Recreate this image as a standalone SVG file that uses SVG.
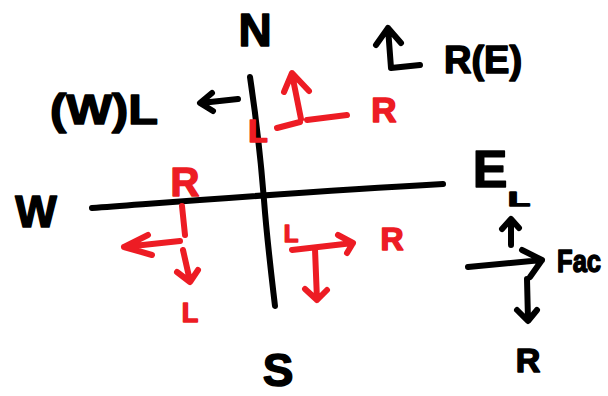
<svg xmlns="http://www.w3.org/2000/svg" width="608" height="396" viewBox="0 0 608 396">
<style>
.k{fill:none;stroke:#000;stroke-width:6;stroke-linecap:round;stroke-linejoin:round}
.r{fill:none;stroke:#ED1C24;stroke-width:6;stroke-linecap:round;stroke-linejoin:round}
.tk{font-family:"Liberation Sans",Arial,sans-serif;font-weight:bold;fill:#000;stroke:#000;stroke-width:1.5;stroke-linejoin:round}
.tr{font-family:"Liberation Sans",Arial,sans-serif;font-weight:bold;fill:#ED1C24;stroke:#ED1C24;stroke-width:1.5;stroke-linejoin:round}
</style>
<rect width="608" height="396" fill="#fff"/>
<g id="roads">
<path class="k" d="M250,77 C258,130 262,175 264,200 C267,240 272,280 275,306"/>
<path class="k" d="M92,208 C200,200 300,192 443,184"/>
</g>
<g id="compass">
<text class="tk" x="255" y="46" font-size="46" text-anchor="middle">N</text>
<text class="tk" x="36" y="227" font-size="44" text-anchor="middle">W</text>
<text class="tk" x="490" y="187" font-size="52" text-anchor="middle">E</text>
<text class="tk" x="278" y="386" font-size="46" text-anchor="middle">S</text>
</g>
<g id="legend-west">
<text class="tk" x="50" y="124" font-size="42" textLength="108" lengthAdjust="spacingAndGlyphs">(W)L</text>
<path class="k" d="M238,99 L201,103 M212,93 L200,103 L213,111"/>
</g>
<g id="legend-east">
<path class="k" d="M388,28 L391,68 L420,65 M376,45 L388,28 L401,43"/>
<text class="tk" x="444" y="73" font-size="38">R(E)</text>
</g>
<g id="legend-facing">
<text class="tk" x="508" y="206" font-size="20" textLength="22" lengthAdjust="spacingAndGlyphs">L</text>
<path class="k" d="M511,245 L511,221 M502,229 L511,219 L519,228"/>
<path class="k" d="M468,267 L542,260 M522,250 L542,260 L530,277"/>
<text class="tk" font-size="32" transform="translate(557,272) scale(0.8,1)">Fac</text>
<path class="k" d="M527,279 L528,320 M517,310 L528,321 L537,310"/>
<text class="tk" x="528" y="372" font-size="34" text-anchor="middle">R</text>
</g>
<g id="north-approach">
<path class="r" d="M292,74 L301,119 M284,92 L292,73 L309,91"/>
<path class="r" d="M277,128 L300,122 M307,120 L347,115"/>
<text class="tr" x="258" y="142" font-size="32" text-anchor="middle">L</text>
<text class="tr" x="384" y="122" font-size="35" text-anchor="middle">R</text>
</g>
<g id="west-approach">
<text class="tr" x="185" y="196" font-size="40" text-anchor="middle">R</text>
<path class="r" d="M182,206 L185,235 M183,250 L190,281 M177,272 L190,282 L198,270"/>
<path class="r" d="M180,241 L124,247 M148,235 L124,247 L152,255"/>
<text class="tr" x="190" y="322" font-size="27" text-anchor="middle">L</text>
</g>
<g id="east-approach">
<text class="tr" x="291" y="242" font-size="24" text-anchor="middle">L</text>
<path class="r" d="M292,250 L353,243 M338,235 L353,243 L347,253"/>
<path class="r" d="M315,249 L317,300 M305,289 L317,300 L327,290"/>
<text class="tr" x="392" y="250" font-size="32" text-anchor="middle">R</text>
</g>
</svg>
